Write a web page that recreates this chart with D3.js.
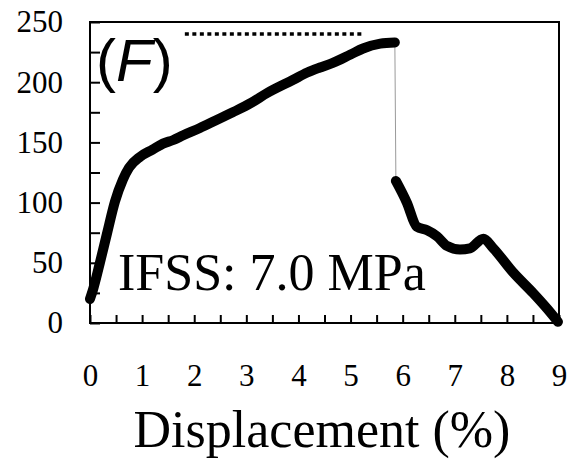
<!DOCTYPE html>
<html>
<head>
<meta charset="utf-8">
<script src="https://cdn.jsdelivr.net/npm/d3@7"></script>
<style>
  body { margin: 0; background: #fff; }
  text { font-family: "Liberation Serif", "Times New Roman", serif; fill: #000; }
</style>
</head>
<body>
<div id="chart"></div>
<script>
// curve before the fibre pull-out drop
const preX = [0, 0.06, 0.19, 0.33, 0.48, 0.63, 0.75, 0.96, 1.2, 1.4, 1.6, 1.79, 2.11, 2.4, 2.74, 3.1, 3.4, 3.9, 4.17, 4.4, 4.66, 5.0, 5.24, 5.57, 5.85]
const preY = [20, 28, 50, 75, 101, 119, 129, 138, 144, 149, 152, 156, 162, 168, 175, 183, 191, 202, 208, 212, 216, 223, 228, 232, 233]
// curve after the drop
const postX = [5.87, 6.08, 6.27, 6.47, 6.66, 6.85, 7.1, 7.29, 7.55, 7.74, 8.12, 8.5, 8.77, 8.98]
const postY = [118, 100, 80, 77, 72, 64, 61, 62, 70, 62, 42, 25, 12, 1]
// dotted reference line
const dotX = [1.82, 5.24]
const dotY = [240, 240]

const xLabels = [0, 1, 2, 3, 4, 5, 6, 7, 8, 9]
const yLabels = [0, 50, 100, 150, 200, 250]
const xMinor = d3.range(0, 9.01, 0.5)
const yMinor = d3.range(0, 250.1, 25)

const width = 572
const height = 460
const margin = { top: 22, right: 13, bottom: 137, left: 90 }
const innerW = width - margin.left - margin.right
const innerH = height - margin.top - margin.bottom

const svg = d3.select("div#chart").append("svg")
    .attr("width", width)
    .attr("height", height)

const g = svg.append("g")
    .attr("transform", `translate(${margin.left}, ${margin.top})`)

const x = d3.scaleLinear().domain([0, 9]).range([0, innerW])
const y = d3.scaleLinear().domain([0, 250]).range([innerH, 0])

// inside ticks
g.append("g")
    .attr("transform", `translate(0, ${innerH})`)
    .call(d3.axisBottom(x).tickValues(xMinor).tickSize(-8).tickFormat(""))
    .call(a => a.select(".domain").remove())
    .selectAll("line").attr("stroke", "#000").attr("stroke-width", 2)
g.append("g")
    .call(d3.axisLeft(y).tickValues(yMinor).tickSize(-10).tickFormat(""))
    .call(a => a.select(".domain").remove())
    .selectAll("line").attr("stroke", "#000").attr("stroke-width", 2)

// labels
g.append("g")
    .attr("transform", `translate(0, ${innerH})`)
    .call(d3.axisBottom(x).tickValues(xLabels).tickSize(0).tickPadding(41).tickFormat(d3.format("d")))
    .call(a => a.select(".domain").remove())
    .selectAll("text")
    .attr("font-family", "Liberation Serif")
    .attr("font-size", 31)
    .attr("fill", "#000")
g.append("g")
    .call(d3.axisLeft(y).tickValues(yLabels).tickSize(0).tickPadding(27).tickFormat(d3.format("d")))
    .call(a => a.select(".domain").remove())
    .selectAll("text")
    .attr("font-family", "Liberation Serif")
    .attr("font-size", 31)
    .attr("fill", "#000")

// frame
g.append("rect")
    .attr("width", innerW)
    .attr("height", innerH)
    .attr("fill", "none")
    .attr("stroke", "#000")
    .attr("stroke-width", 2)

const line = d3.line().x(d => x(d[0])).y(d => y(d[1]))
const smooth = d3.line().x(d => x(d[0])).y(d => y(d[1])).curve(d3.curveMonotoneX)
const pre = preX.map((v, i) => [v, preY[i]])
const post = postX.map((v, i) => [v, postY[i]])

// thin drop line
g.append("path")
    .datum([pre[pre.length - 1], post[0]])
    .attr("d", line)
    .attr("fill", "none")
    .attr("stroke", "#9a9a9a")
    .attr("stroke-width", 1)

g.append("path")
    .datum(dotX.map((v, i) => [v, dotY[i]]))
    .attr("d", line)
    .attr("fill", "none")
    .attr("stroke", "#000")
    .attr("stroke-width", 3.5)
    .attr("stroke-dasharray", "4,3.5")

;[pre, post].forEach(s => {
    g.append("path")
        .datum(s)
        .attr("d", smooth)
        .attr("fill", "none")
        .attr("stroke", "#000")
        .attr("stroke-width", 10)
        .attr("stroke-linecap", "round")
        .attr("stroke-linejoin", "round")
})

// panel label
const lab = svg.append("text")
    .attr("x", 96)
    .attr("y", 81)
    .attr("font-size", 60)
    .style("font-family", "'Liberation Sans', Arial, sans-serif")
lab.append("tspan").text("(")
lab.append("tspan").attr("font-style", "italic").text("F")
lab.append("tspan").text(")")

svg.append("text")
    .attr("x", 118)
    .attr("y", 290)
    .attr("font-size", 52)
    .text("IFSS: 7.0 MPa")

svg.append("text")
    .attr("x", 322)
    .attr("y", 447)
    .attr("text-anchor", "middle")
    .attr("font-size", 52)
    .text("Displacement (%)")
</script>
</body>
</html>
